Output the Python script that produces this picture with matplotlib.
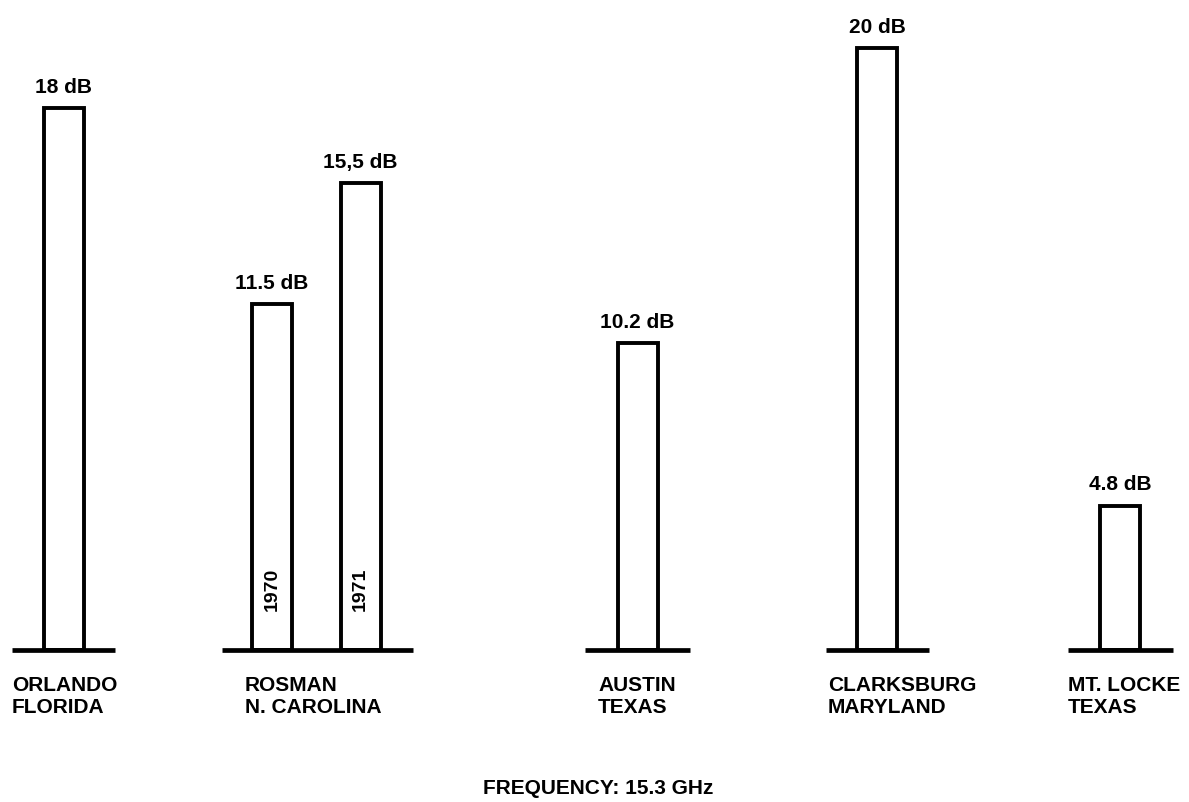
import matplotlib.pyplot as plt

plt.rcParams['font.family'] = ['Liberation Sans', 'DejaVu Sans']

# data
sites = ['ORLANDO\nFLORIDA', 'ROSMAN\nN. CAROLINA', 'AUSTIN\nTEXAS',
         'CLARKSBURG\nMARYLAND', 'MT. LOCKE\nTEXAS']
bar_site = [0, 1, 1, 2, 3, 4]
bar_values = [18, 11.5, 15.5, 10.2, 20, 4.8]
bar_labels = ['18 dB', '11.5 dB', '15,5 dB', '10.2 dB', '20 dB', '4.8 dB']
bar_years = ['', '1970', '1971', '', '', '']
footnote = 'FREQUENCY: 15.3 GHz'

# layout (pixel-like x units, dB on y)
bar_x = [63.5, 272, 360.5, 637.5, 877, 1120]
base_spans = [(12, 115), (222, 413), (585, 690), (826, 929), (1068, 1173)]
site_label_x = [12, 245, 598, 828, 1068]
px_per_db = 30.1
base_px = 650

fig = plt.figure(figsize=(11.89, 8.02), dpi=100)
ax = fig.add_axes([0, 0, 1, 1])
ax.set_xlim(0, 1189)
ax.set_ylim(-(802 - base_px) / px_per_db, base_px / px_per_db)
ax.axis('off')

ax.bar(bar_x, bar_values, width=40, facecolor='white', edgecolor='black',
       linewidth=2.8, zorder=2)

for lo, hi in base_spans:
    ax.hlines(0, lo, hi, color='black', linewidth=3.4, zorder=3)

for x, v, lab in zip(bar_x, bar_values, bar_labels):
    ax.annotate(lab, (x, v), xytext=(0, 11), textcoords='offset points',
                ha='center', va='baseline', fontsize=15, fontweight='bold')

for x, yr in zip(bar_x, bar_years):
    if yr:
        ax.text(x, 2.0, yr, rotation=90, ha='center', va='center',
                fontsize=14, fontweight='bold')

for x, s in zip(site_label_x, sites):
    ax.text(x, -0.85, s, ha='left', va='top', fontsize=15,
            fontweight='bold', linespacing=1.25)

ax.text(598, -(788 - base_px) / px_per_db, footnote, ha='center',
        va='center', fontsize=15, fontweight='bold')

fig.savefig('out.png', dpi=100, facecolor='white')
